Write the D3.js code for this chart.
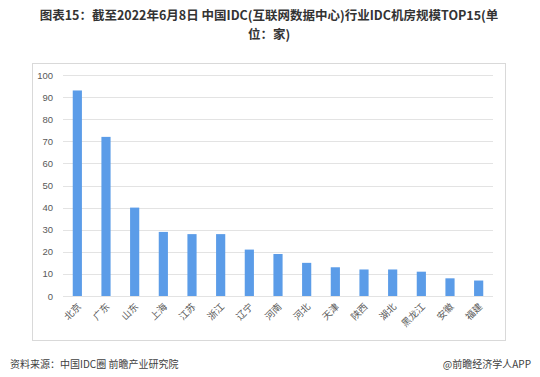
<!DOCTYPE html>
<html>
<head>
<meta charset="utf-8">
<script src="https://cdn.jsdelivr.net/npm/d3@7"></script>
<style>
  body { margin: 0; background: #fff; }
  text { font-family: "Noto Sans CJK SC", "Liberation Sans", sans-serif; }
</style>
</head>
<body>
<div id="chart"></div>
<script>
const provinces = ['北京', '广东', '山东', '上海', '江苏', '浙江', '辽宁', '河南', '河北', '天津', '陕西', '湖北', '黑龙江', '安徽', '福建'];
const counts = [93, 72, 40, 29, 28, 28, 21, 19, 15, 13, 12, 12, 11, 8, 7];
const yTicks = [0, 10, 20, 30, 40, 50, 60, 70, 80, 90, 100];

const width = 540, height = 377;
let [mt, mr, mb, ml] = [75, 47, 81, 63];

const svg = d3.select('#chart').append('svg')
  .attr('width', width)
  .attr('height', height);

// 제목 (두 줄)
const title = svg.append('g')
  .attr('text-anchor', 'middle')
  .style('font-size', '12.5px')
  .style('font-weight', 'bold')
  .attr('fill', '#333');
title.append('text').attr('x', 269).attr('y', 20)
  .text('图表15：截至2022年6月8日 中国IDC(互联网数据中心)行业IDC机房规模TOP15(单');
title.append('text').attr('x', 269).attr('y', 39).text('位：家)');

// 외곽 박스
svg.append('rect')
  .attr('x', 32.5).attr('y', 63.5)
  .attr('width', 473).attr('height', 277)
  .attr('fill', 'none')
  .attr('stroke', '#d9d9d9');

const x = d3.scaleBand()
  .domain(provinces)
  .range([ml, width - mr])
  .paddingInner(0.68)
  .paddingOuter(0.34);

const y = d3.scaleLinear([0, 100], [height - mb, mt]);

// grid
svg.append('g')
  .selectAll('line')
  .data(yTicks)
  .join('line')
  .attr('x1', ml).attr('x2', width - mr)
  .attr('y1', d => Math.round(y(d)) + 0.5)
  .attr('y2', d => Math.round(y(d)) + 0.5)
  .attr('stroke', '#e3e3e3');

const yAxis = d3.axisLeft(y).tickValues(yTicks).tickSize(0).tickPadding(10);
svg.append('g')
  .attr('transform', `translate(${ml},0)`)
  .call(yAxis)
  .call(g => g.select('.domain').remove())
  .call(g => g.selectAll('text')
    .attr('fill', '#595959')
    .style('font-size', '9.5px')
    .style('font-family', '"Liberation Sans", sans-serif'));

// bars
svg.append('g')
  .selectAll('rect')
  .data(provinces)
  .join('rect')
  .attr('fill', '#5b9ce8')
  .attr('x', d => x(d))
  .attr('width', x.bandwidth())
  .attr('y', (d, i) => y(counts[i]))
  .attr('height', (d, i) => y(0) - y(counts[i]));

// x labels, 45도 회전
svg.append('g')
  .selectAll('text')
  .data(provinces)
  .join('text')
  .attr('transform', d => `translate(${x(d) + x.bandwidth() / 2 + 2},${y(0) + 9}) rotate(-45)`)
  .attr('text-anchor', 'end')
  .attr('dy', '0.35em')
  .attr('fill', '#595959')
  .style('font-size', '9.5px')
  .text(d => d);

// footer
svg.append('text')
  .attr('x', 10).attr('y', 368)
  .attr('fill', '#404040')
  .style('font-size', '10px')
  .text('资料来源：中国IDC圈 前瞻产业研究院');
svg.append('text')
  .attr('x', 531).attr('y', 368)
  .attr('text-anchor', 'end')
  .attr('fill', '#404040')
  .style('font-size', '10px')
  .text('@前瞻经济学人APP');
</script>
</body>
</html>
